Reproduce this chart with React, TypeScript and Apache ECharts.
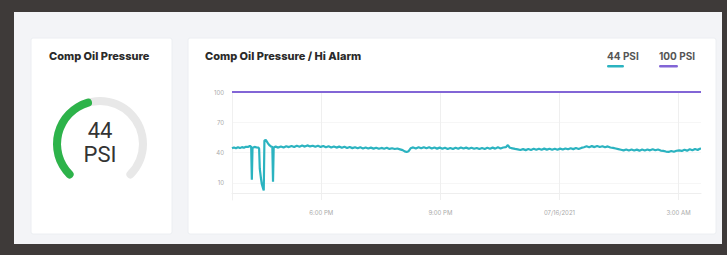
import React, { useEffect, useRef } from "react";
import * as echarts from "echarts";

// Gauge
const gaugeValue = 44;
const gaugeUnit = "PSI";

// Time axis (minutes since midnight 07/15/2021)
const tickMinutes = [1080, 1260, 1440, 1620];
const tickLabels = ["6:00 PM", "9:00 PM", "07/16/2021", "3:00 AM"];
const yTickValues = [10, 40, 70, 100];

// Comp Oil Pressure samples (minute, PSI)
const pressureMinutes = [
  945, 948, 951, 954, 957, 960, 963, 966, 969, 972, 974, 975, 976, 979, 982, 985, 986, 987, 989, 990,
  992, 993, 994, 996, 998, 1000, 1002, 1004, 1006, 1007, 1008, 1011, 1015, 1019, 1023, 1027, 1031, 1035, 1039, 1043,
  1047, 1051, 1055, 1059, 1063, 1067, 1071, 1075, 1079, 1083, 1087, 1091, 1095, 1099, 1103, 1107, 1111, 1115, 1119, 1123,
  1127, 1131, 1135, 1139, 1143, 1147, 1151, 1155, 1159, 1163, 1167, 1171, 1175, 1179, 1183, 1187, 1191, 1195, 1199, 1203,
  1206, 1209, 1212, 1215, 1219, 1223, 1227, 1231, 1235, 1239, 1243, 1247, 1251, 1255, 1259, 1263, 1267, 1271, 1275, 1279,
  1283, 1287, 1291, 1295, 1299, 1303, 1307, 1311, 1315, 1319, 1323, 1327, 1331, 1335, 1339, 1343, 1347, 1351, 1355, 1359,
  1362, 1365, 1369, 1373, 1377, 1381, 1385, 1389, 1393, 1397, 1401, 1405, 1409, 1413, 1417, 1421, 1425, 1429, 1433, 1437,
  1441, 1445, 1449, 1453, 1457, 1461, 1465, 1469, 1473, 1477, 1481, 1485, 1489, 1493, 1497, 1501, 1505, 1509, 1513, 1517,
  1521, 1525, 1529, 1533, 1537, 1541, 1545, 1549, 1553, 1557, 1561, 1565, 1569, 1573, 1577, 1581, 1585, 1589, 1593, 1597,
  1601, 1605, 1609, 1613, 1617, 1621, 1625, 1629, 1633, 1637, 1641, 1645, 1649, 1652, 1654,
];
const pressureValues = [
  44.2, 45.1, 44.3, 45.3, 44.4, 45.4, 44.7, 45.7, 45.6, 46.6, 45.6, 13.0, 44.8, 45.6, 45.2, 44.9, 44.0, 24.0, 13.5, 9.0,
  4.5, 2.5, 52.0, 52.5, 50.5, 48.5, 47.0, 46.0, 45.4, 11.0, 45.0, 45.9, 44.9, 46.1, 45.1, 46.3, 45.4, 46.5, 45.5, 46.7,
  45.8, 46.9, 45.9, 47.1, 46.1, 46.8, 45.7, 46.7, 45.6, 46.5, 45.3, 46.2, 45.1, 46.1, 44.9, 45.9, 44.7, 45.7, 44.5, 45.5,
  44.4, 45.3, 44.2, 45.2, 44.1, 45.0, 44.0, 44.9, 43.9, 44.8, 43.7, 44.6, 43.8, 44.7, 43.6, 44.3, 43.5, 44.0, 43.2, 42.4,
  41.2, 40.6, 41.4, 44.2, 45.1, 44.1, 45.2, 44.2, 45.3, 44.3, 45.2, 44.0, 45.0, 43.9, 44.9, 43.7, 44.7, 43.6, 44.6, 43.5,
  44.8, 43.8, 45.1, 44.0, 44.9, 43.8, 44.8, 43.7, 44.6, 43.5, 44.5, 43.6, 44.7, 43.8, 44.9, 43.9, 45.2, 44.1, 45.0, 45.3,
  47.4, 44.8, 44.2, 43.6, 43.1, 42.5, 43.4, 42.4, 43.5, 42.6, 43.7, 42.7, 43.8, 42.8, 43.9, 42.9, 43.8, 42.7, 43.7, 42.8,
  43.9, 43.0, 44.1, 43.2, 44.3, 43.4, 44.5, 43.6, 44.6, 45.3, 46.2, 45.2, 46.4, 45.4, 46.5, 45.5, 46.3, 45.2, 46.1, 45.0,
  44.6, 44.0, 43.4, 42.8, 42.2, 43.1, 42.1, 43.0, 42.0, 42.9, 41.9, 43.0, 42.1, 43.1, 42.2, 43.2, 42.3, 43.0, 42.0, 41.6,
  41.0, 40.6, 41.5, 40.8, 41.8, 42.2, 41.6, 42.8, 41.9, 43.2, 42.2, 43.5, 42.6, 43.8, 43.9,
];

// Hi Alarm threshold
const alarmMinutes = [945, 1654];
const alarmValues = [100, 100];

const TEAL = "#2bb3c0";
const PURPLE = "#8265d6";

export default function App() {
  const ref = useRef<HTMLDivElement>(null);

  useEffect(() => {
    if (!ref.current) return;
    const chart = echarts.init(ref.current, undefined, { renderer: "svg" });
    const labelFor = (v: number) => {
      const i = tickMinutes.indexOf(v);
      return i >= 0 ? tickLabels[i] : "";
    };
    const titleFont = { fontFamily: "Inter", fontWeight: 800, fontSize: 11, fill: "#2a2a2a" };
    chart.setOption({
      animation: false,
      backgroundColor: "#3e3a39",
      graphic: [
        { type: "rect", shape: { x: 14, y: 12, width: 708, height: 232 }, style: { fill: "#f3f4f7" }, z: -10 },
        { type: "rect", shape: { x: 31, y: 38, width: 141, height: 196, r: 2 }, style: { fill: "#ffffff", stroke: "#eceef2", lineWidth: 1 }, z: -9 },
        { type: "rect", shape: { x: 188, y: 38, width: 528, height: 196, r: 2 }, style: { fill: "#ffffff", stroke: "#eceef2", lineWidth: 1 }, z: -9 },
        { type: "text", x: 49, y: 56, style: { ...titleFont, text: "Comp Oil Pressure", verticalAlign: "middle" } },
        { type: "text", x: 205, y: 56, style: { ...titleFont, text: "Comp Oil Pressure / Hi Alarm", verticalAlign: "middle" } },
        { type: "text", x: 607, y: 56, style: { text: `${gaugeValue} PSI`, fontFamily: "Inter", fontWeight: 700, fontSize: 10, fill: "#555", verticalAlign: "middle" } },
        { type: "rect", shape: { x: 607, y: 65, width: 17, height: 2.5, r: 1.2 }, style: { fill: TEAL } },
        { type: "text", x: 659, y: 56, style: { text: "100 PSI", fontFamily: "Inter", fontWeight: 700, fontSize: 10, fill: "#555", verticalAlign: "middle" } },
        { type: "rect", shape: { x: 659, y: 65, width: 19, height: 2.5, r: 1.2 }, style: { fill: PURPLE } },
      ],
      grid: { left: 232, right: 26, top: 92, bottom: 55, containLabel: false },
      xAxis: {
        type: "value",
        min: 945,
        max: 1654,
        axisLine: { show: true, lineStyle: { color: "#eeeeee" } },
        axisTick: { show: false, customValues: tickMinutes },
        axisLabel: { customValues: tickMinutes, formatter: labelFor, color: "#aaaaaa", fontSize: 6, fontFamily: "Inter", margin: 9 },
        splitLine: { show: true, lineStyle: { color: "#efefef", width: 1 } },
      },
      yAxis: {
        type: "value",
        min: -7,
        max: 100,
        axisLine: { show: true, lineStyle: { color: "#f0f0f0" } },
        axisTick: { show: false, customValues: yTickValues },
        axisLabel: { customValues: yTickValues, color: "#aaaaaa", fontSize: 6, fontFamily: "Inter", margin: 8 },
        splitLine: { show: true, lineStyle: { color: "#f6f6f6", width: 1 } },
      },
      series: [
        {
          type: "gauge",
          center: [100, 144],
          radius: 47,
          startAngle: 225,
          endAngle: -45,
          min: 0,
          max: 100,
          pointer: { show: false },
          axisTick: { show: false },
          splitLine: { show: false },
          axisLabel: { show: false },
          anchor: { show: false },
          title: { show: false },
          axisLine: { roundCap: true, lineStyle: { width: 8, color: [[1, "#e8e8e8"]] } },
          progress: { show: true, roundCap: true, width: 8, itemStyle: { color: "#2db34a" } },
          detail: {
            offsetCenter: [0, -2],
            formatter: (v: number) => `${v}\n${gaugeUnit}`,
            fontFamily: "Roboto",
            fontSize: 22,
            lineHeight: 24,
            color: "#333333",
            fontWeight: 400,
          },
          data: [{ value: gaugeValue }],
        },
        {
          name: "Comp Oil Pressure",
          type: "line",
          showSymbol: false,
          symbol: "none",
          lineStyle: { color: TEAL, width: 2.2 },
          data: pressureMinutes.map((m, i) => [m, pressureValues[i]]),
          z: 3,
        },
        {
          name: "Hi Alarm",
          type: "line",
          showSymbol: false,
          symbol: "none",
          lineStyle: { color: PURPLE, width: 1.8 },
          data: alarmMinutes.map((m, i) => [m, alarmValues[i]]),
          z: 3,
        },
      ],
    });
    return () => chart.dispose();
  }, []);

  return <div ref={ref} style={{ position: "absolute", left: 0, top: 0, width: 727, height: 255 }} />;
}
